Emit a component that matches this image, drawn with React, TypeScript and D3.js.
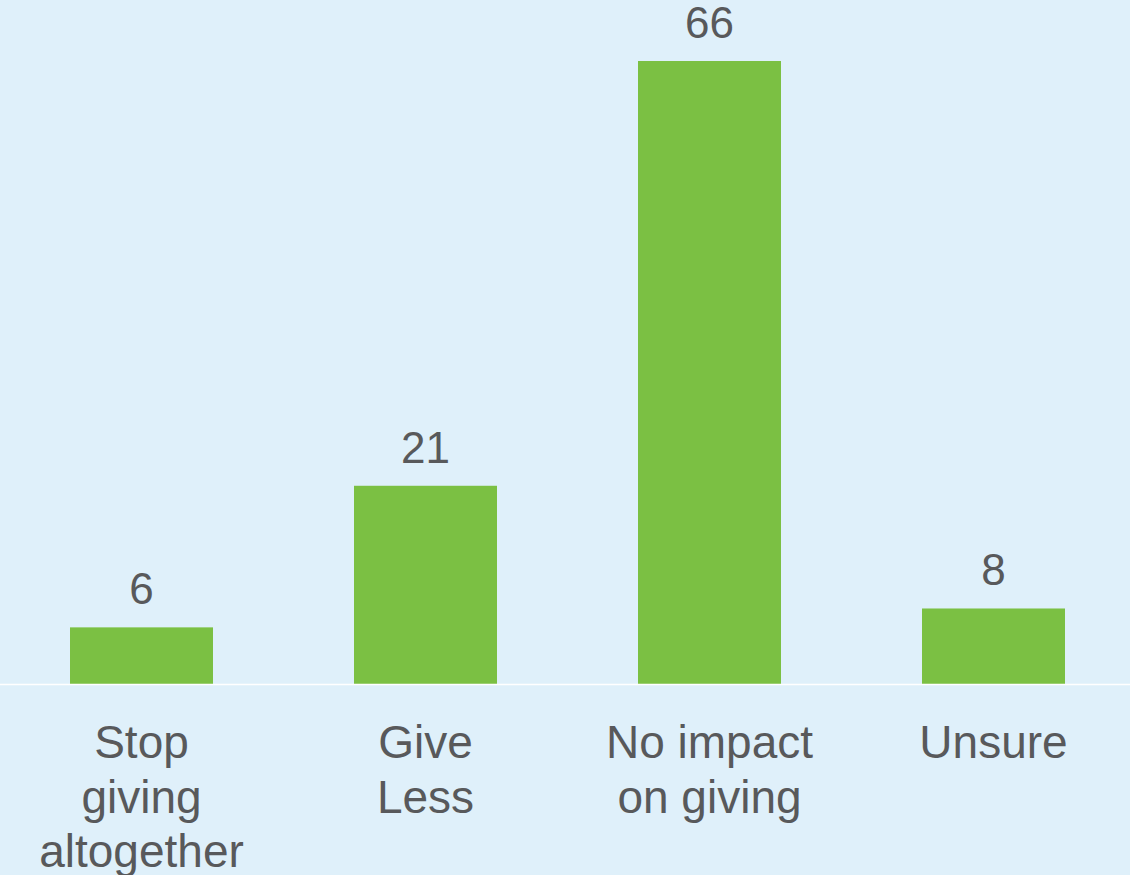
import React from "react";
import * as d3 from "d3";

const categories: string[] = ["Stop giving altogether", "Give Less", "No impact on giving", "Unsure"];
const categoryLines: string[][] = [["Stop", "giving", "altogether"], ["Give", "Less"], ["No impact", "on giving"], ["Unsure"]];
const values: number[] = [6, 21, 66, 8];

const W = 1130;
const H = 875;
const BG = "#dff0fa";
const GREEN = "#7bc043";
const TEXT = "#58595b";
const FONT = "'Liberation Sans', Arial, sans-serif";

export default function App() {
  const x = d3
    .scaleBand<string>()
    .domain(categories)
    .range([-0.5, 1135.5])
    .paddingInner(0.4965)
    .paddingOuter(0.24825);
  const y = d3.scaleLinear().domain([0, 66]).range([684, 61]);
  const baseY = y(0);

  return (
    <svg
      width={W}
      height={H}
      style={{ position: "absolute", left: 0, top: 0, background: BG }}
    >
      <rect x={0} y={0} width={W} height={H} fill={BG} />
      {categories.map((c, i) => {
        const x0 = x(c)!;
        const bw = x.bandwidth();
        const cx = x0 + bw / 2;
        return (
          <g key={c}>
            <rect x={x0} y={y(values[i])} width={bw} height={baseY - y(values[i])} fill={GREEN} />
            <text
              x={cx}
              y={y(values[i]) - 23}
              textAnchor="middle"
              fontFamily={FONT}
              fontSize={44}
              fill={TEXT}
            >
              {values[i]}
            </text>
            {categoryLines[i].map((ln, j) => (
              <text
                key={j}
                x={cx}
                y={758 + j * 54.5}
                textAnchor="middle"
                fontFamily={FONT}
                fontSize={46}
                fill={TEXT}
              >
                {ln}
              </text>
            ))}
          </g>
        );
      })}
      <line x1={0} x2={W} y1={baseY + 0.5} y2={baseY + 0.5} stroke="#ffffff" strokeWidth={1.5} />
    </svg>
  );
}
